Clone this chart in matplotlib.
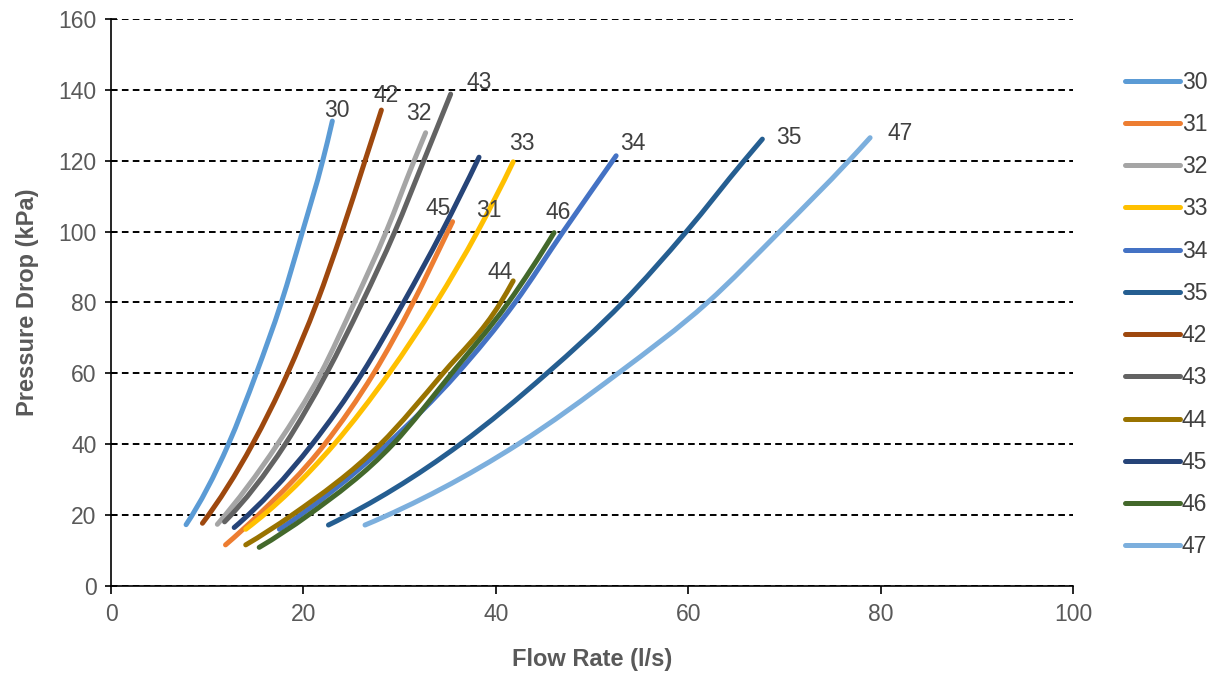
import numpy as np
import matplotlib.pyplot as plt
from matplotlib.path import Path
from matplotlib.patches import PathPatch
from matplotlib.lines import Line2D

plt.rcParams['font.family'] = ['Liberation Sans', 'DejaVu Sans']

# flow rate (l/s) and pressure drop (kPa) for each unit
names = ['30', '31', '32', '33', '34', '35', '42', '43', '44', '45', '46', '47']

flow = {
    '30': [7.8, 12.2, 15.1, 17.7, 19.9, 22.0, 23.0],
    '31': [11.9, 15.3, 22.2, 27.3, 31.4, 35.0, 35.5],
    '32': [11.05, 17.3, 21.8, 25.3, 28.6, 31.5, 32.7],
    '33': [14.0, 23.2, 28.9, 33.8, 38.1, 41.8],
    '34': [17.5, 28.7, 36.0, 42.0, 47.0, 52.5],
    '35': [22.6, 36.3, 45.3, 53.2, 59.8, 65.8, 67.7],
    '42': [9.5, 14.7, 18.35, 21.4, 24.0, 26.4, 28.1],
    '43': [11.8, 18.1, 22.4, 26.1, 29.5, 32.5, 35.3],
    '44': [14.0, 18.8, 28.0, 34.5, 40.5, 41.8],
    '45': [12.8, 20.9, 26.1, 30.4, 34.4, 38.25],
    '46': [15.4, 20.5, 29.3, 35.4, 41.3, 46.05],
    '47': [26.4, 42.3, 52.7, 62.0, 69.5, 76.7, 78.9],
}

dp = {
    '30': [17.3, 40, 60, 80, 100, 120, 131.2],
    '31': [11.6, 20, 40, 60, 80, 100, 102.8],
    '32': [17.4, 40, 60, 80, 100, 120, 127.9],
    '33': [16.0, 40, 60, 80, 100, 119.7],
    '34': [16.0, 40, 60, 80, 100, 121.4],
    '35': [17.2, 40, 60, 80, 100, 120, 126.1],
    '42': [17.7, 40, 60, 80, 100, 120, 134.3],
    '43': [18.1, 40, 60, 80, 100, 120, 138.8],
    '44': [11.6, 20, 40, 60, 80, 86.1],
    '45': [16.5, 40, 60, 80, 100, 121.0],
    '46': [10.9, 20, 40, 60, 80, 99.7],
    '47': [17.2, 40, 60, 80, 100, 120, 126.5],
}

colors = {
    '30': '#5B9BD5', '31': '#ED7D31', '32': '#A5A5A5', '33': '#FFC000',
    '34': '#4472C4', '35': '#255E91', '42': '#9E480E', '43': '#636363',
    '44': '#997300', '45': '#264478', '46': '#43682B', '47': '#7CAFDD',
}

# where the curve names sit on the chart
label_pos = {
    '30': (23.5, 134.3), '42': (28.6, 138.5), '32': (32.0, 133.2),
    '43': (38.3, 142.2), '45': (34.0, 106.4), '31': (39.3, 106.1),
    '33': (42.7, 125.0), '46': (46.5, 105.5), '44': (40.4, 88.6),
    '34': (54.2, 125.0), '35': (70.5, 126.7), '47': (82.0, 127.8),
}


def smooth_path(xs, ys):
    # cubic hermite through the points, written as bezier segments
    x = np.asarray(xs, float)
    y = np.asarray(ys, float)
    h = np.diff(x)
    d = np.diff(y) / h
    m = np.empty_like(x)
    m[0], m[-1] = d[0], d[-1]
    m[1:-1] = (h[:-1] * d[1:] + h[1:] * d[:-1]) / (h[:-1] + h[1:])
    # ends: extrapolate the slope trend a little
    if len(x) > 2:
        m[0] = max(2 * d[0] - m[1], 0.5 * d[0])
        m[-1] = max(2 * d[-1] - m[-2], d[-1])
    verts = [(x[0], y[0])]
    codes = [Path.MOVETO]
    for i in range(len(x) - 1):
        verts += [(x[i] + h[i] / 3, y[i] + m[i] * h[i] / 3),
                  (x[i + 1] - h[i] / 3, y[i + 1] - m[i + 1] * h[i] / 3),
                  (x[i + 1], y[i + 1])]
        codes += [Path.CURVE4] * 3
    return Path(verts, codes)


fig = plt.figure(figsize=(12.19, 6.74), dpi=100)
ax = fig.add_axes([0.0911, 0.1306, 0.7892, 0.8412])

handles = []
for nm in names:
    path = smooth_path(flow[nm], dp[nm])
    patch = PathPatch(path, fill=False, edgecolor=colors[nm], lw=3.6,
                      capstyle='round', joinstyle='round', zorder=3)
    ax.add_patch(patch)
    handles.append(Line2D([], [], color=colors[nm], lw=3.6,
                          solid_capstyle='round', label=nm))

for nm, (lx, ly) in label_pos.items():
    ax.text(lx, ly, nm, ha='center', va='center', fontsize=16.5,
            color='#404040', zorder=4)

ax.set_xlim(0, 100)
ax.set_ylim(0, 160)
ax.set_xticks(np.arange(0, 101, 20))
ax.set_yticks(np.arange(0, 161, 20))

ax.yaxis.grid(True, color='black', lw=1.4, linestyle=(0, (3.4, 2.2)))
ax.set_axisbelow(True)

for s in ['top', 'right']:
    ax.spines[s].set_visible(False)
for s in ['left', 'bottom']:
    ax.spines[s].set_color('black')
    ax.spines[s].set_linewidth(1.2)

ax.tick_params(axis='y', direction='inout', length=9, width=1.2,
               labelsize=16.5, labelcolor='#595959', pad=6)
ax.tick_params(axis='x', direction='out', length=6, width=1.2,
               labelsize=16.5, labelcolor='#595959', pad=6)

ax.set_xlabel('Flow Rate (l/s)', fontsize=17, fontweight='bold',
              color='#595959', labelpad=16)
ax.set_ylabel('Pressure Drop (kPa)', fontsize=17, fontweight='bold',
              color='#595959', labelpad=14)

leg = ax.legend(handles=handles, loc='upper left', bbox_to_anchor=(1.044, 0.925),
                frameon=False, fontsize=16.5, handlelength=2.4,
                handletextpad=0.1, labelspacing=0.84, borderaxespad=0)
for t in leg.get_texts():
    t.set_color('#404040')

fig.savefig('out.png', dpi=100)
